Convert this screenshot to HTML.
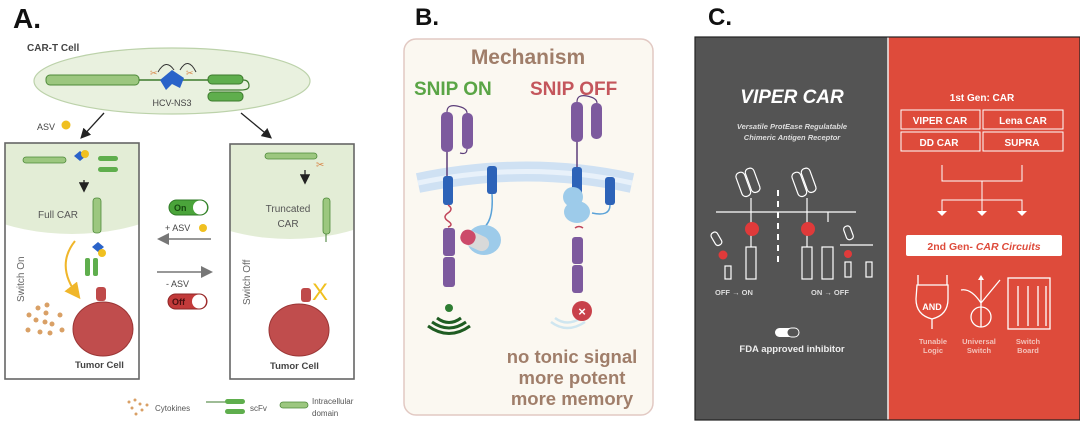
<!DOCTYPE html>
<html><head><meta charset="utf-8"><style>
html,body{margin:0;padding:0;background:#fff;}
svg{display:block;font-family:"Liberation Sans",sans-serif;}
</style></head><body>
<svg width="1080" height="424" viewBox="0 0 1080 424" xmlns="http://www.w3.org/2000/svg">
<defs>
<marker id="ak" markerWidth="8" markerHeight="8" refX="6" refY="4" orient="auto"><path d="M0,0 L8,4 L0,8 z" fill="#222"/></marker>
<marker id="ag" markerWidth="8" markerHeight="8" refX="6" refY="4" orient="auto"><path d="M0,0 L8,4 L0,8 z" fill="#777"/></marker>
<marker id="ay" markerWidth="8" markerHeight="8" refX="6" refY="4" orient="auto"><path d="M0,0 L8,4 L0,8 z" fill="#f0b62a"/></marker>
</defs>

<!-- ===== Panel A ===== -->
<text x="13" y="28" font-size="28" font-weight="bold" fill="#111">A.</text>
<text x="27" y="51" font-size="10" font-weight="bold" fill="#444">CAR-T Cell</text>
<ellipse cx="172" cy="81" rx="138" ry="33" fill="#e9f1df" stroke="#bcd2aa" stroke-width="1.2"/>
<rect x="46" y="75" width="93" height="10" rx="4" fill="#9cc77f" stroke="#4e8a3a"/>
<line x1="139" y1="80" x2="210" y2="80" stroke="#3d7a2d" stroke-width="1.5"/>
<path d="M160,80 l12,-10 l12,8 l-4,10 l-8,-4 l-6,6 z" fill="#2a63c9"/>
<rect x="208" y="75" width="35" height="9" rx="4" fill="#5fae4d" stroke="#3d7a2d"/>
<rect x="208" y="92" width="35" height="9" rx="4" fill="#5fae4d" stroke="#3d7a2d"/>
<path d="M243,80 q6,0 6,6 q0,4 -8,4 h-32" fill="none" stroke="#3d7a2d" stroke-width="1.2"/>
<text x="150" y="76" font-size="9" fill="#d8874a">✂</text>
<text x="186" y="76" font-size="9" fill="#d8874a">✂</text>
<path d="M158,72 q8,-14 16,-2 M180,70 q8,-14 16,2" fill="none" stroke="#333"/>
<text x="172" y="106" font-size="9" fill="#444" text-anchor="middle">HCV-NS3</text>
<line x1="104" y1="113" x2="82" y2="137" stroke="#222" stroke-width="1.3" marker-end="url(#ak)"/>
<line x1="241" y1="113" x2="270" y2="137" stroke="#222" stroke-width="1.3" marker-end="url(#ak)"/>
<text x="37" y="130" font-size="9" fill="#444">ASV</text><circle cx="66" cy="125" r="4.5" fill="#f0c020"/>

<!-- left box -->
<clipPath id="cl"><rect x="5" y="143" width="134" height="236"/></clipPath>
<g clip-path="url(#cl)"><ellipse cx="72" cy="172" rx="125" ry="62" fill="#e3edd6"/></g>
<rect x="5" y="143" width="134" height="236" fill="none" stroke="#666" stroke-width="1.6"/>
<rect x="23" y="157" width="43" height="6" rx="3" fill="#9cc77f" stroke="#4e8a3a" stroke-width=".8"/>
<path d="M74,156 l6,-5 l6,5 l-6,5 z" fill="#2a63c9"/><circle cx="85" cy="154" r="4" fill="#f0c020"/>
<rect x="98" y="156" width="20" height="5" rx="2.5" fill="#5fae4d"/><rect x="98" y="167" width="20" height="5" rx="2.5" fill="#5fae4d"/>
<line x1="84" y1="180" x2="84" y2="190" stroke="#222" stroke-width="1.3" marker-end="url(#ak)"/>
<text x="38" y="218" font-size="10" fill="#555">Full CAR</text>
<rect x="93" y="198" width="8" height="35" rx="3" fill="#9cc77f" stroke="#4e8a3a" stroke-width=".8"/>
<path d="M92,247 l6,-5 l6,5 l-6,5 z" fill="#2a63c9"/><circle cx="102" cy="253" r="4" fill="#f0c020"/>
<rect x="85" y="258" width="5" height="18" rx="2" fill="#5fae4d"/><rect x="93" y="258" width="5" height="18" rx="2" fill="#5fae4d"/>
<path d="M75,241 q-20,25 3,55" fill="none" stroke="#f0b62a" stroke-width="2" marker-end="url(#ay)"/>
<text transform="translate(24,302) rotate(-90)" font-size="10" fill="#666">Switch On</text>
<rect x="96" y="287" width="10" height="14" rx="3" fill="#bf4a4a"/>
<ellipse cx="103" cy="329" rx="30" ry="27" fill="#c04d4d" stroke="#9a3535"/>
<g fill="#d9a066"><circle cx="29" cy="315" r="2.5"/><circle cx="38" cy="308" r="2.5"/><circle cx="46" cy="313" r="2.5"/><circle cx="36" cy="320" r="2.5"/><circle cx="45" cy="322" r="2.5"/><circle cx="52" cy="324" r="2.5"/><circle cx="28" cy="330" r="2.5"/><circle cx="40" cy="332" r="2.5"/><circle cx="50" cy="333" r="2.5"/><circle cx="60" cy="315" r="2.5"/><circle cx="62" cy="330" r="2.5"/><circle cx="47" cy="305" r="2.5"/></g>
<text x="75" y="368" font-size="9.5" font-weight="bold" fill="#444">Tumor Cell</text>

<!-- right box -->
<clipPath id="cr"><rect x="230" y="144" width="124" height="235"/></clipPath>
<g clip-path="url(#cr)"><ellipse cx="290" cy="177" rx="122" ry="62" fill="#e3edd6"/></g>
<rect x="230" y="144" width="124" height="235" fill="none" stroke="#666" stroke-width="1.6"/>
<rect x="265" y="153" width="52" height="6" rx="3" fill="#9cc77f" stroke="#4e8a3a" stroke-width=".8"/>
<text x="316" y="168" font-size="10" fill="#d8874a">✂</text>
<line x1="305" y1="170" x2="305" y2="182" stroke="#222" stroke-width="1.3" marker-end="url(#ak)"/>
<text x="288" y="212" font-size="10" fill="#555" text-anchor="middle">Truncated</text>
<text x="288" y="227" font-size="10" fill="#555" text-anchor="middle">CAR</text>
<rect x="323" y="198" width="7" height="36" rx="3" fill="#9cc77f" stroke="#4e8a3a" stroke-width=".8"/>
<line x1="326" y1="234" x2="326" y2="242" stroke="#3d7a2d"/>
<text transform="translate(250,305) rotate(-90)" font-size="10" fill="#666">Switch Off</text>
<text x="312" y="300" font-size="24" fill="#f0c020">X</text>
<rect x="301" y="288" width="10" height="14" rx="3" fill="#bf4a4a"/>
<ellipse cx="299" cy="330" rx="30" ry="26" fill="#c04d4d" stroke="#9a3535"/>
<text x="270" y="369" font-size="9.5" font-weight="bold" fill="#444">Tumor Cell</text>

<!-- switches -->
<rect x="169" y="200" width="39" height="15" rx="7.5" fill="#4aa43a" stroke="#2f7a26"/>
<circle cx="200" cy="207.5" r="7" fill="#fff"/>
<text x="174" y="211" font-size="9" font-weight="bold" fill="#174b10">On</text>
<text x="165" y="231" font-size="9" fill="#444">+ ASV</text><circle cx="203" cy="228" r="4" fill="#f0c020"/>
<line x1="211" y1="239" x2="160" y2="239" stroke="#777" stroke-width="1.5" marker-end="url(#ag)"/>
<line x1="157" y1="272" x2="210" y2="272" stroke="#777" stroke-width="1.5" marker-end="url(#ag)"/>
<text x="166" y="287" font-size="9" fill="#444">- ASV</text>
<rect x="168" y="294" width="39" height="15" rx="7.5" fill="#c23a3a" stroke="#8e2525"/>
<circle cx="199" cy="301.5" r="7" fill="#fff"/>
<text x="172" y="305" font-size="9" font-weight="bold" fill="#4a0f0f">Off</text>

<!-- legend -->
<g fill="#d9a066"><circle cx="129" cy="402" r="1.5"/><circle cx="135" cy="400" r="1.5"/><circle cx="140" cy="404" r="1.5"/><circle cx="132" cy="408" r="1.5"/><circle cx="142" cy="410" r="1.5"/><circle cx="136" cy="414" r="1.5"/><circle cx="147" cy="405" r="1.5"/></g>
<text x="155" y="411" font-size="8" fill="#555">Cytokines</text>
<line x1="206" y1="402" x2="230" y2="402" stroke="#3d7a2d"/>
<rect x="225" y="399" width="20" height="5" rx="2.5" fill="#5fae4d"/><rect x="225" y="409" width="20" height="5" rx="2.5" fill="#5fae4d"/>
<text x="250" y="411" font-size="8" fill="#555">scFv</text>
<rect x="280" y="402" width="28" height="6" rx="3" fill="#9cc77f" stroke="#4e8a3a" stroke-width=".8"/>
<text x="312" y="404" font-size="8" fill="#555">Intracellular</text>
<text x="312" y="416" font-size="8" fill="#555">domain</text>

<!-- ===== Panel B ===== -->
<text x="415" y="25" font-size="24" font-weight="bold" fill="#111">B.</text>
<rect x="404" y="39" width="249" height="376" rx="12" fill="#fbf8f1" stroke="#e2c9c3" stroke-width="1.5"/>
<text x="528" y="64" font-size="21" font-weight="bold" fill="#a07e6a" text-anchor="middle">Mechanism</text>
<text x="414" y="95" font-size="19" font-weight="bold" fill="#5aa546">SNIP ON</text>
<text x="530" y="95" font-size="19" font-weight="bold" fill="#c4565c">SNIP OFF</text>
<path d="M418,183 Q528,160 632,183" fill="none" stroke="#cfe1f3" stroke-width="20"/>
<path d="M418,183 Q528,160 632,183" fill="none" stroke="#e8f1fa" stroke-width="5"/>
<rect x="441" y="112" width="12" height="40" rx="5" fill="#7d5a9e"/><rect x="462" y="113" width="11" height="36" rx="5" fill="#7d5a9e"/>
<path d="M447,112 q0,-8 10,-6 q10,2 10,7 M467,149 q0,6 -7,4" fill="none" stroke="#5c3e7a" stroke-width="1.2"/>
<line x1="447" y1="152" x2="447" y2="178" stroke="#5c3e7a" stroke-width="1.5"/>
<rect x="443" y="176" width="10" height="29" rx="3" fill="#2d63b8"/>
<rect x="487" y="166" width="10" height="28" rx="3" fill="#2d63b8"/>
<path d="M448,205 q6,4 0,8 q-6,4 0,8 q6,4 0,6" fill="none" stroke="#c0455a" stroke-width="1.5"/>
<rect x="443" y="228" width="12" height="28" rx="3" fill="#7d5a9e"/><rect x="443" y="257" width="12" height="30" rx="3" fill="#7d5a9e"/>
<path d="M492,194 q2,30 -12,36" fill="none" stroke="#5aa2d8" stroke-width="1.5"/>
<ellipse cx="484" cy="240" rx="17" ry="15" fill="#9dcbea"/>
<rect x="460" y="233" width="30" height="15" rx="7.5" fill="#d9d9d9" transform="rotate(25 475 240)"/>
<rect x="460" y="233" width="15" height="15" rx="7" fill="#cc4a6a" transform="rotate(25 475 240)"/>
<circle cx="449" cy="308" r="4" fill="#2e7d32"/>
<path d="M437,318 q12,9 24,0 M432,322 q17,12 34,0 M428,326 q21,15 42,0" fill="none" stroke="#1f5c22" stroke-width="3"/>
<rect x="571" y="102" width="12" height="40" rx="5" fill="#7d5a9e"/><rect x="591" y="103" width="11" height="36" rx="5" fill="#7d5a9e"/>
<path d="M577,102 q0,-8 10,-6 q10,2 10,7" fill="none" stroke="#5c3e7a" stroke-width="1.2"/>
<line x1="577" y1="142" x2="577" y2="167" stroke="#5c3e7a" stroke-width="1.5"/>
<rect x="572" y="167" width="10" height="28" rx="3" fill="#2d63b8"/>
<rect x="605" y="177" width="10" height="28" rx="3" fill="#2d63b8"/>
<circle cx="573" cy="197" r="10" fill="#9dcbea"/><ellipse cx="577" cy="212" rx="13" ry="11" fill="#9dcbea"/>
<path d="M610,205 q0,12 -18,8" fill="none" stroke="#5aa2d8" stroke-width="1.5"/>
<path d="M575,228 q4,-3 8,0" fill="none" stroke="#c0455a" stroke-width="1.5"/>
<rect x="572" y="237" width="11" height="27" rx="3" fill="#7d5a9e"/><rect x="572" y="265" width="11" height="28" rx="3" fill="#7d5a9e"/>
<path d="M555,318 q12,9 26,0 M551,322 q16,12 34,0" fill="none" stroke="#cfe6f0" stroke-width="2.5"/>
<circle cx="582" cy="311" r="10" fill="#c8414a"/>
<text x="582" y="316" font-size="13" font-weight="bold" fill="#fff" text-anchor="middle">×</text>
<g font-size="18.5" font-weight="bold" fill="#a07e6a" text-anchor="middle"><text x="572" y="363">no tonic signal</text><text x="572" y="384">more potent</text><text x="572" y="405">more memory</text></g>

<!-- ===== Panel C ===== -->
<text x="708" y="25" font-size="24" font-weight="bold" fill="#111">C.</text>
<rect x="695" y="37" width="193" height="383" fill="#545454"/>
<rect x="888" y="37" width="192" height="383" fill="#de4b3b"/>
<line x1="888" y1="37" x2="888" y2="420" stroke="#eee" stroke-width="1.5"/>
<rect x="695" y="37" width="385" height="383" fill="none" stroke="#222" stroke-width="1.2"/>
<text x="792" y="103" font-size="19" font-weight="bold" font-style="italic" fill="#fff" text-anchor="middle">VIPER CAR</text>
<g font-size="7.5" font-style="italic" font-weight="bold" fill="#ddd" text-anchor="middle"><text x="792" y="129">Versatile ProtEase Regulatable</text><text x="792" y="140">Chimeric Antigen Receptor</text></g>
<g fill="none" stroke="#fff" stroke-width="1.2">
<rect x="739" y="172" width="9" height="25" rx="4" transform="rotate(-20 743 185)"/><rect x="748" y="168" width="9" height="25" rx="4" transform="rotate(-20 752 180)"/>
<rect x="795" y="172" width="9" height="25" rx="4" transform="rotate(-20 799 185)"/><rect x="804" y="168" width="9" height="25" rx="4" transform="rotate(-20 808 180)"/>
<line x1="716" y1="212" x2="856" y2="212"/>
<line x1="751" y1="198" x2="751" y2="247"/><line x1="807" y1="198" x2="807" y2="247"/><line x1="828" y1="212" x2="828" y2="222"/>
<rect x="746" y="247" width="10" height="32"/><rect x="802" y="247" width="10" height="32"/><rect x="822" y="247" width="11" height="32"/>
<line x1="778" y1="190" x2="778" y2="265" stroke-dasharray="6,5" stroke-width="2"/>
<rect x="725" y="266" width="6" height="13"/><rect x="845" y="262" width="6" height="15"/><rect x="866" y="262" width="6" height="15"/>
<line x1="840" y1="245" x2="873" y2="245"/>
<rect x="713" y="232" width="7" height="14" rx="3" transform="rotate(-30 716 239)"/><rect x="845" y="226" width="7" height="14" rx="3" transform="rotate(-20 848 233)"/>
</g>
<g fill="#e03a3a"><circle cx="752" cy="229" r="7"/><circle cx="808" cy="229" r="7"/><circle cx="723" cy="255" r="4.5"/><circle cx="848" cy="254" r="4"/></g>
<g font-size="7.5" font-weight="bold" fill="#ddd"><text x="715" y="295">OFF → ON</text><text x="811" y="295">ON → OFF</text></g>
<rect x="775" y="328" width="24" height="9" rx="4.5" fill="#fff"/><rect x="787" y="328" width="12" height="9" rx="4.5" fill="#545454" stroke="#fff"/>
<text x="792" y="352" font-size="9.5" font-weight="bold" fill="#eee" text-anchor="middle">FDA approved inhibitor</text>

<text x="982" y="101" font-size="10" font-weight="bold" fill="#fff" text-anchor="middle">1st Gen: CAR</text>
<g fill="none" stroke="#fff" stroke-width="1"><rect x="901" y="110" width="79" height="19"/><rect x="983" y="110" width="80" height="19"/><rect x="901" y="132" width="79" height="19"/><rect x="983" y="132" width="80" height="19"/></g>
<g font-size="10" font-weight="bold" fill="#fff" text-anchor="middle"><text x="940" y="124">VIPER CAR</text><text x="1023" y="124">Lena CAR</text><text x="939" y="146">DD CAR</text><text x="1022" y="146">SUPRA</text></g>
<g stroke="#fff" stroke-width="1" fill="none"><path d="M942,165 V181 H1022 V165 M982,181 V200 M942,211 V200 H1022 V211 M982,200 V211"/></g>
<g fill="#fff"><path d="M937,211 h10 l-5,5 z"/><path d="M977,211 h10 l-5,5 z"/><path d="M1017,211 h10 l-5,5 z"/></g>
<rect x="906" y="235" width="156" height="21" rx="2" fill="#fff"/>
<text x="984" y="250" font-size="10.5" font-weight="bold" fill="#de4b3b" text-anchor="middle">2nd Gen- <tspan font-style="italic">CAR Circuits</tspan></text>
<g fill="none" stroke="#fff" stroke-width="1.3">
<path d="M918,275 v10 M947,275 v10 M917,285 h31 v14 q0,16 -16,20 q-16,-4 -16,-20 z M932,319 v10"/>
<circle cx="981" cy="317" r="10"/><path d="M981,327 v-50 M981,303 q-10,-15 -20,-13 M981,303 l19,-23"/>
<rect x="1008" y="278" width="42" height="51"/>
<path d="M1018,286 v40 M1028,286 v40 M1038,286 v40 M1046,286 v40"/>
</g>
<path d="M978,280 l3,-5 l3,5 z" fill="#fff"/>
<text x="932" y="310" font-size="9" font-weight="bold" fill="#fff" text-anchor="middle">AND</text>
<g font-size="7.5" font-weight="bold" fill="#f3c2ba" text-anchor="middle"><text x="933" y="344">Tunable</text><text x="933" y="353">Logic</text><text x="979" y="344">Universal</text><text x="979" y="353">Switch</text><text x="1028" y="344">Switch</text><text x="1028" y="353">Board</text></g>
</svg>
</body></html>
